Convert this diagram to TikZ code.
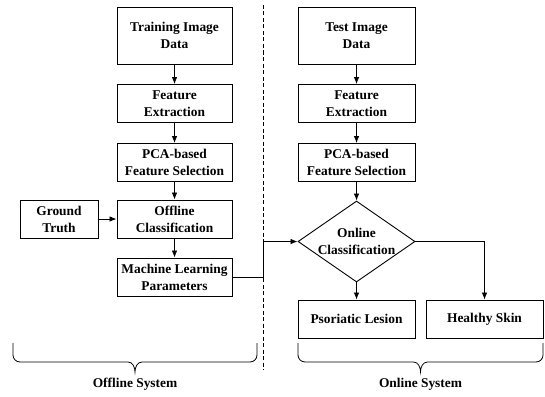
\documentclass[tikz,border=0pt]{standalone}
\usepackage{fontspec}
\setmainfont{Liberation Serif}
\usetikzlibrary{arrows.meta,shapes.geometric}
\begin{document}
\begin{tikzpicture}[x=1pt,y=-1pt,
  every node/.style={font=\bfseries\fontsize{13.4}{17}\selectfont, align=center},
  box/.style={draw, line width=0.9pt, inner sep=0pt, minimum width=115pt, minimum height=38pt},
  arr/.style={line width=0.8pt, -{Latex[length=7pt,width=5.5pt]}},
  lbl/.style={font=\bfseries\fontsize{13.4}{16}\selectfont}]
\useasboundingbox (0,0) rectangle (545,396);
% offline column
\node[box, minimum height=57pt] (tr) at (174.5,35.5) {Training Image\\Data};
\node[box] (fe1) at (174.5,103.5) {Feature\\Extraction};
\node[box] (pca1) at (174.5,162.5) {PCA-based\\Feature Selection};
\node[box] (oc) at (174.5,219) {Offline\\Classification};
\node[box, minimum width=78pt] (gt) at (59,219) {Ground\\Truth};
\node[box] (ml) at (174.5,277) {Machine Learning\\Parameters};
% online column
\node[box, minimum width=117pt, minimum height=57pt] (te) at (356.5,35.5) {Test Image\\Data};
\node[box, minimum width=117pt] (fe2) at (356.5,103.5) {Feature\\Extraction};
\node[box, minimum width=117pt] (pca2) at (356.5,162.5) {PCA-based\\Feature Selection};
\node[draw, line width=0.9pt, diamond, aspect=1.44, inner sep=-2pt, minimum width=117pt, minimum height=81pt] (dia) at (356.5,241.5) {Online\\Classification};
\node[box, minimum width=117pt] (pl) at (356.5,319) {Psoriatic Lesion};
\node[box, minimum width=117pt] (hs) at (484.5,319) {Healthy Skin};
% connectors
\draw[arr] (tr) -- (fe1);
\draw[arr] (fe1) -- (pca1);
\draw[arr] (pca1) -- (oc);
\draw[arr] (gt) -- (oc);
\draw[arr] (oc) -- (ml);
\draw[arr] (te) -- (fe2);
\draw[arr] (fe2) -- (pca2);
\draw[arr] (pca2) -- (dia);
\coordinate (bend) at (263,277);
\draw[arr] (ml.east) -- (bend) |- (dia.west);
\draw[arr] (dia.south) -- (pl);
\draw[arr] (dia.east) -| (hs.north);
% divider
\draw[dashed, line width=0.7pt, dash pattern=on 4pt off 2.5pt] (263,5) -- (263,370);
% braces
\draw[line width=0.8pt] (13,343) -- (13,355) to[out=-90,in=180] (20,362) -- (128,362) to[out=0,in=90] (135,372) to[out=90,in=180] (142,362) -- (250,362) to[out=0,in=-90] (257,355) -- (257,343);
\draw[line width=0.8pt] (298,343) -- (298,355) to[out=-90,in=180] (305,362) -- (413.5,362) to[out=0,in=90] (420.5,372) to[out=90,in=180] (427.5,362) -- (536,362) to[out=0,in=-90] (543,355) -- (543,343);
\node[lbl] (offl) at (135,384) {Offline System};
\node[lbl] (onl) at (420.5,384) {Online System};
\end{tikzpicture}
\end{document}
